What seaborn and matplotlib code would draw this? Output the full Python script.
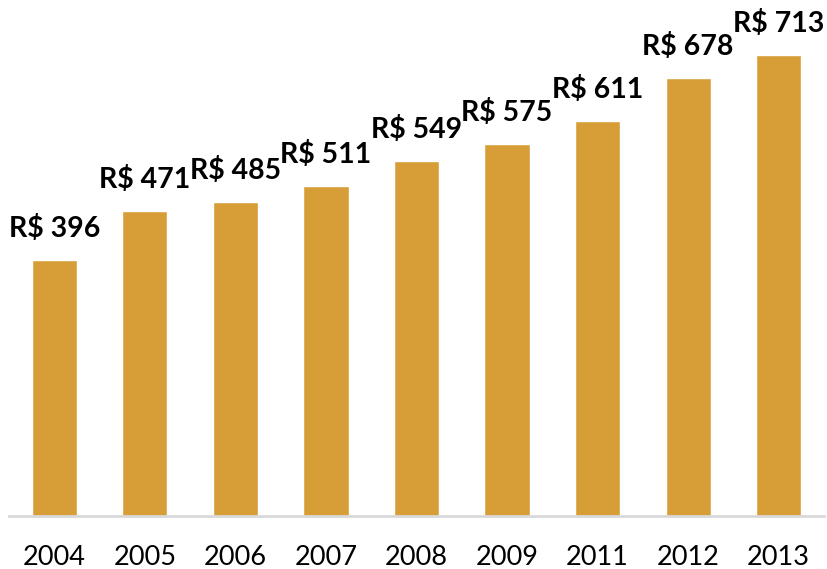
import pandas as pd
import matplotlib.pyplot as plt
import seaborn as sns

# Data
years = ['2004', '2005', '2006', '2007', '2008', '2009', '2011', '2012', '2013']
values = [396, 471, 485, 511, 549, 575, 611, 678, 713]

df = pd.DataFrame({'year': years, 'value': values})

sns.set_style('white')
plt.rcParams['font.family'] = ['Lato', 'DejaVu Sans']

fig = plt.figure(figsize=(8.27, 5.69), dpi=100)
ax = fig.add_axes([9 / 827, 1 - 516 / 569, 815 / 827, 516 / 569])

sns.barplot(data=df, x='year', y='value', color='#D79E38', saturation=1,
            width=0.5, ax=ax, errorbar=None)

# Value labels above bars
for i, v in enumerate(values):
    ax.annotate(f'R$ {v}', (i, v), xytext=(0, 13), textcoords='offset points',
                ha='center', va='bottom', fontsize=20.5, fontweight='bold',
                color='black')

ax.set_xlim(-0.5, 8.5)
ax.set_ylim(0, 798)
ax.set_xlabel('')
ax.set_ylabel('')
ax.set_yticks([])
ax.tick_params(axis='x', length=0, labelsize=19.5, pad=21, colors='black')

for side in ['top', 'left', 'right']:
    ax.spines[side].set_visible(False)
ax.spines['bottom'].set_color('#D9D9D9')
ax.spines['bottom'].set_linewidth(2)

fig.savefig('out.png', dpi=100)
